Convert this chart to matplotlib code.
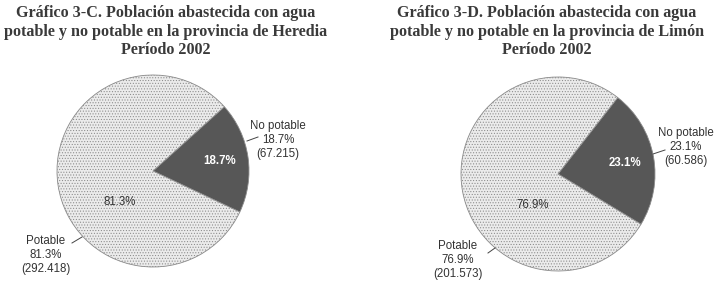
import matplotlib
matplotlib.use("Agg")
import matplotlib.pyplot as plt

# ---- data ----
categories = ["No potable", "Potable"]
heredia_values = [67215, 292418]
limon_values = [60586, 201573]
titles = [
    "Gráfico 3-C. Población abastecida con agua\npotable y no potable en la provincia de Heredia\nPeríodo 2002",
    "Gráfico 3-D. Población abastecida con agua\npotable y no potable en la provincia de Limón\nPeríodo 2002",
]

plt.rcParams['hatch.color'] = '#c2c2c2'
plt.rcParams['hatch.linewidth'] = 0.45

W, H = 718, 288
fig = plt.figure(figsize=(W / 100, H / 100), dpi=100)
fig.patch.set_facecolor('white')
ax = fig.add_axes([0, 0, 1, 1])
ax.set_xlim(0, W)
ax.set_ylim(H, 0)  # pixel-like coordinates, y downwards
ax.set_aspect('equal')
ax.axis('off')

def fmt(n):
    return f"{n:,}".replace(",", ".")

def draw(values, center, radius, startangle, title_x, lab_no, lead_no, lab_p, lead_p, in_no, in_p, title):
    total = sum(values)
    pct = [v / total * 100 for v in values]
    # y axis inverted -> counterclock in data space appears clockwise
    wedges, _ = ax.pie(values, center=center, radius=radius, startangle=-startangle,
                       counterclock=True, colors=['#575757', '#ebebeb'],
                       wedgeprops=dict(edgecolor='#8a8a8a', linewidth=0.6),
                       frame=True)
    wedges[1].set_hatch('......')
    ax.set_xlim(0, W)
    ax.set_ylim(H, 0)
    ax.axis('off')
    txt = dict(family='Liberation Sans', fontsize=8.3, color='#333333', ha='center', va='center', linespacing=1.25)
    ax.text(lab_no[0], lab_no[1], f"{categories[0]}\n{pct[0]:.1f}%\n({fmt(values[0])})", **txt)
    ax.text(lab_p[0], lab_p[1], f"{categories[1]}\n{pct[1]:.1f}%\n({fmt(values[1])})", **txt)
    ax.plot([lead_no[0], lead_no[2]], [lead_no[1], lead_no[3]], color='#444444', lw=0.7)
    ax.plot([lead_p[0], lead_p[2]], [lead_p[1], lead_p[3]], color='#444444', lw=0.7)
    ax.text(in_no[0], in_no[1], f"{pct[0]:.1f}%", family='Liberation Sans', fontsize=8.3,
            fontweight='bold', color='white', ha='center', va='center')
    ax.text(in_p[0], in_p[1], f"{pct[1]:.1f}%", family='Liberation Sans', fontsize=8.3,
            color='#333333', ha='center', va='center')
    ax.text(title_x, 31.5, title, family='Liberation Serif', fontweight='bold', fontsize=11.6,
            color='#3a3a3a', ha='center', va='center', linespacing=1.2)

draw(heredia_values, (153, 171), 96, 42, 166,
     (278, 140), (247, 141, 258, 137), (46, 255), (72, 243, 82, 237),
     (220, 161), (120, 202), titles[0])
draw(limon_values, (558, 174), 97, 52, 547,
     (686, 147), (653, 154, 665, 150), (458, 260), (488, 253, 495, 248),
     (625, 163), (533, 205), titles[1])

fig.savefig("out.png", dpi=100, facecolor='white')
